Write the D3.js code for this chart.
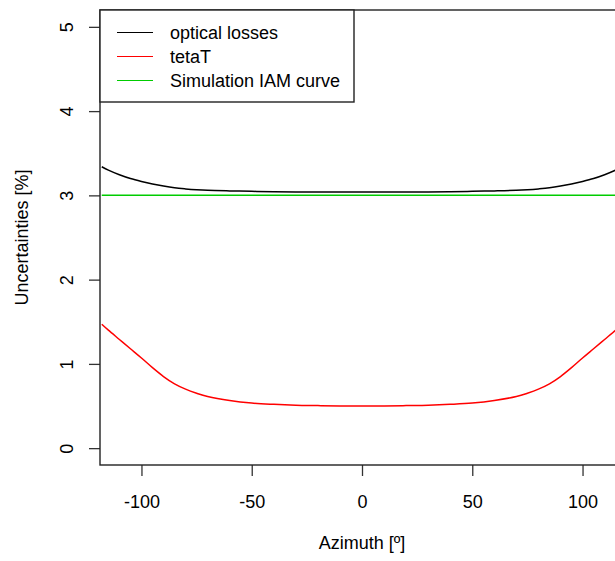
<!DOCTYPE html>
<html>
<head>
<meta charset="utf-8">
<script src="https://cdn.jsdelivr.net/npm/d3@7/dist/d3.min.js"></script>
<style>
  body { margin: 0; background: #fff; }
  text { font-family: "Liberation Sans", Arial, sans-serif; fill: #000; }
</style>
</head>
<body>
<div class="plot"></div>
<script>
// data
const azimuth = [-118, -115, -110, -105, -100, -95, -90, -85, -80, -75, -70, -60, -50, -40, -30, -20, -10, 0,
                 10, 20, 30, 40, 50, 60, 70, 75, 80, 85, 90, 95, 100, 105, 110, 115, 118];
const opticalLosses = [3.34, 3.30, 3.245, 3.20, 3.165, 3.135, 3.11, 3.09, 3.077, 3.067, 3.06, 3.053, 3.048, 3.044, 3.041, 3.04, 3.04, 3.04,
                       3.04, 3.04, 3.041, 3.044, 3.048, 3.053, 3.06, 3.067, 3.077, 3.09, 3.11, 3.135, 3.165, 3.20, 3.245, 3.30, 3.34];
const tetaT = [1.47, 1.40, 1.29, 1.18, 1.07, 0.955, 0.85, 0.763, 0.70, 0.652, 0.613, 0.565, 0.535, 0.52, 0.51, 0.505, 0.50, 0.50,
               0.50, 0.505, 0.51, 0.52, 0.535, 0.565, 0.613, 0.652, 0.70, 0.763, 0.85, 0.955, 1.07, 1.18, 1.29, 1.40, 1.47];
const iamCurve = azimuth.map(() => 3.0);
const xTicks = [-100, -50, 0, 50, 100];
const yTicks = [0, 1, 2, 3, 4, 5];
const seriesNames = ["optical losses", "tetaT", "Simulation IAM curve"];
const seriesColors = ["#000000", "#ff0000", "#00cc00"];

const margin = {top: 10, left: 100};
const w = 524;
const h = 455;

const root = d3.select(".plot")
    .append("svg")
        .attr("width", 615)
        .attr("height", 561);

const svg = root.append("g")
    .attr("transform", "translate(" + margin.left + "," + margin.top + ")");

// scales
const x = d3.scaleLinear().domain([-118.8, 118.8]).range([0, w]);
const y = d3.scaleLinear().domain([-0.2, 5.2]).range([h, 0]);

svg.append("clipPath")
    .attr("id", "clip")
    .append("rect")
        .attr("width", w)
        .attr("height", h);

// curves
const line = d3.line()
    .x(d => x(d[0]))
    .y(d => y(d[1]))
    .curve(d3.curveCatmullRom);

const series = [opticalLosses, tetaT, iamCurve];
series.forEach((vals, i) => {
    svg.append("path")
        .datum(azimuth.map((a, j) => [a, vals[j]]))
        .attr("clip-path", "url(#clip)")
        .attr("fill", "none")
        .attr("stroke", seriesColors[i])
        .attr("stroke-width", 1.5)
        .attr("d", line);
});

// x axis
const xAxis = svg.append("g")
    .attr("transform", "translate(0," + h + ")")
    .call(d3.axisBottom(x).tickValues(xTicks).tickSize(11).tickFormat(d3.format("d")));
xAxis.select(".domain").remove();
xAxis.selectAll("line").attr("stroke", "#333").attr("stroke-width", 1.3);
xAxis.selectAll("text")
    .attr("y", 43)
    .attr("dy", 0)
    .style("font-size", "18px")
    .text(d => d < 0 ? "-" + Math.abs(d) : d);

// y axis, labels turned like R does it
const yAxis = svg.append("g")
    .call(d3.axisLeft(y).tickValues(yTicks).tickSize(11).tickFormat(d3.format("d")));
yAxis.select(".domain").remove();
yAxis.selectAll("line").attr("stroke", "#333").attr("stroke-width", 1.3);
yAxis.selectAll("text")
    .attr("transform", "rotate(-90)")
    .attr("x", 0)
    .attr("y", -27.5)
    .attr("dy", 0)
    .attr("text-anchor", "middle")
    .style("font-size", "18px");

// box
svg.append("rect")
    .attr("width", w)
    .attr("height", h)
    .attr("fill", "none")
    .attr("stroke", "#222")
    .attr("stroke-width", 1.4);

// axis titles
root.append("text")
    .attr("x", margin.left + w / 2)
    .attr("y", 549)
    .attr("text-anchor", "middle")
    .style("font-size", "18px")
    .text("Azimuth [º]");

root.append("text")
    .attr("transform", "rotate(-90)")
    .attr("x", -(margin.top + h / 2))
    .attr("y", 28)
    .attr("text-anchor", "middle")
    .style("font-size", "18px")
    .text("Uncertainties [%]");

// legend
const legend = svg.append("g").attr("id", "legend");
legend.append("rect")
    .attr("width", 254)
    .attr("height", 92)
    .attr("fill", "#fff")
    .attr("stroke", "#222")
    .attr("stroke-width", 1.4);

seriesNames.forEach((name, i) => {
    const ly = 22.5 + i * 24;
    legend.append("line")
        .attr("x1", 17)
        .attr("x2", 53)
        .attr("y1", ly)
        .attr("y2", ly)
        .attr("stroke", seriesColors[i])
        .attr("stroke-width", 1.2);
    legend.append("text")
        .attr("x", 70)
        .attr("y", ly + 6.5)
        .style("font-size", "18px")
        .text(name);
});
</script>
</body>
</html>
